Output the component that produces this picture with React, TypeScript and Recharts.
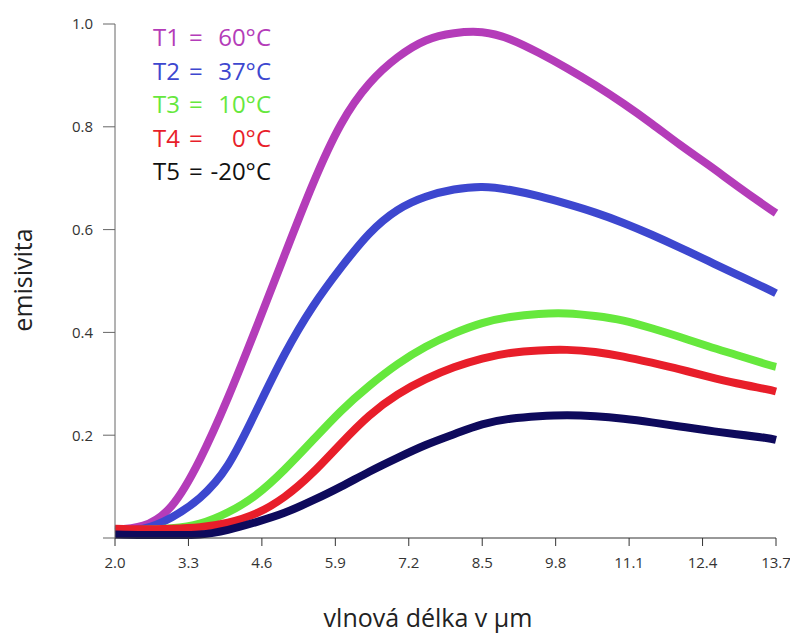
import React from 'react';
import { LineChart, Line, XAxis, YAxis, Legend, Label } from 'recharts';

const wavelengths = [2.0, 2.5, 3.0, 3.5, 4.0, 4.5, 5.0, 5.5, 6.0, 6.5, 7.0, 7.5, 8.0, 8.5, 9.0, 9.5, 10.0, 10.5, 11.0, 11.5, 12.0, 12.5, 13.0, 13.5, 13.7];
const t1 = [0.016, 0.024, 0.062, 0.152, 0.273, 0.409, 0.55, 0.688, 0.805, 0.884, 0.935, 0.968, 0.982, 0.984, 0.97, 0.944, 0.914, 0.881, 0.845, 0.806, 0.765, 0.726, 0.686, 0.647, 0.632];
const t2 = [0.012, 0.018, 0.04, 0.078, 0.142, 0.247, 0.357, 0.45, 0.526, 0.592, 0.638, 0.664, 0.678, 0.683, 0.677, 0.665, 0.65, 0.633, 0.613, 0.59, 0.565, 0.539, 0.513, 0.487, 0.476];
const t3 = [0.015, 0.016, 0.019, 0.028, 0.05, 0.084, 0.133, 0.19, 0.247, 0.296, 0.338, 0.372, 0.398, 0.418, 0.43, 0.436, 0.437, 0.432, 0.423, 0.408, 0.391, 0.373, 0.356, 0.339, 0.333];
const t4 = [0.018, 0.017, 0.018, 0.021, 0.03, 0.048, 0.08, 0.127, 0.184, 0.238, 0.279, 0.309, 0.332, 0.349, 0.36, 0.365, 0.366, 0.362, 0.353, 0.341, 0.328, 0.314, 0.301, 0.29, 0.285];
const t5 = [0.007, 0.006, 0.006, 0.007, 0.016, 0.031, 0.049, 0.073, 0.1, 0.129, 0.156, 0.181, 0.202, 0.221, 0.232, 0.237, 0.239, 0.237, 0.232, 0.225, 0.217, 0.209, 0.202, 0.195, 0.191];

const seriesNames = ['T1', 'T2', 'T3', 'T4', 'T5'];
const temperatures = ['60°C', '37°C', '10°C', '0°C', '-20°C'];
const seriesColors = ['#B43CB9', '#3D47CF', '#66E83D', '#E81E2A', '#0E0A5C'];
const legendTextColors = ['#B43CB9', '#3D47CF', '#66E83D', '#E81E2A', '#111111'];
const xTicks = [2.0, 3.3, 4.6, 5.9, 7.2, 8.5, 9.8, 11.1, 12.4, 13.7];
const yTicks = [0, 0.2, 0.4, 0.6, 0.8, 1.0];
const xTitle = 'vlnová délka v µm';
const yTitle = 'emisivita';

const seriesValues = [t1, t2, t3, t4, t5];
const data = wavelengths.map((w, i) => {
  const row: Record<string, number> = { w };
  seriesNames.forEach((n, k) => { row[n] = seriesValues[k][i]; });
  return row;
});

const FONT = '"Open Sans", "Noto Sans", sans-serif';

const LegendContent = () => (
  <div style={{ fontFamily: FONT, fontSize: 24 }}>
    {seriesNames.map((n, i) => (
      <div key={n} style={{ position: 'relative', height: 33.5, lineHeight: '33.5px', color: legendTextColors[i], whiteSpace: 'pre' }}>
        <span style={{ position: 'absolute', left: 0, top: 0 }}>{n}</span>
        <span style={{ position: 'absolute', left: 36, top: 0 }}>=</span>
        <span style={{ position: 'absolute', left: 0, top: 0, width: 118, textAlign: 'right' }}>{temperatures[i]}</span>
      </div>
    ))}
  </div>
);

export default function App() {
  return (
    <div style={{ position: 'absolute', left: 0, top: 0, width: 790, height: 633, background: '#fff' }}>
      <LineChart width={790} height={633} data={data} margin={{ top: 24, right: 14, bottom: 0, left: 0 }} style={{ fontFamily: FONT }}>
        <XAxis
          dataKey="w"
          type="number"
          domain={[2, 13.7]}
          ticks={xTicks}
          tickFormatter={(v: number) => v.toFixed(1)}
          height={95}
          tickSize={8}
          tickMargin={11}
          stroke="#333"
          tick={{ fill: '#333', fontSize: 15 }}
          interval={0}
        >
          <Label
            content={() => (
              <text x={428} y={627} textAnchor="middle" fontSize={25} fill="#222" fontFamily={FONT}>{xTitle}</text>
            )}
          />
        </XAxis>
        <YAxis
          type="number"
          domain={[0, 1]}
          ticks={yTicks}
          tickFormatter={(v: number) => (v === 0 ? '' : v.toFixed(1))}
          width={115}
          tickSize={12}
          tickMargin={10}
          stroke="#666"
          tick={{ fill: '#333', fontSize: 15 }}
          interval={0}
        >
          <Label
            content={() => (
              <text x={22} y={280} transform="rotate(-90 22 280)" textAnchor="middle" dominantBaseline="central" fontSize={25} fill="#222" fontFamily={FONT}>{yTitle}</text>
            )}
          />
        </YAxis>
        {seriesNames.map((n, i) => (
          <Line key={n} type="natural" dataKey={n} name={n} stroke={seriesColors[i]} strokeWidth={8} dot={false} activeDot={false} isAnimationActive={false} />
        ))}
        <Legend
          layout="vertical"
          align="center"
          verticalAlign="middle"
          content={LegendContent}
          wrapperStyle={{ position: 'absolute', left: 153, top: 20, width: 150 }}
        />
      </LineChart>
    </div>
  );
}
